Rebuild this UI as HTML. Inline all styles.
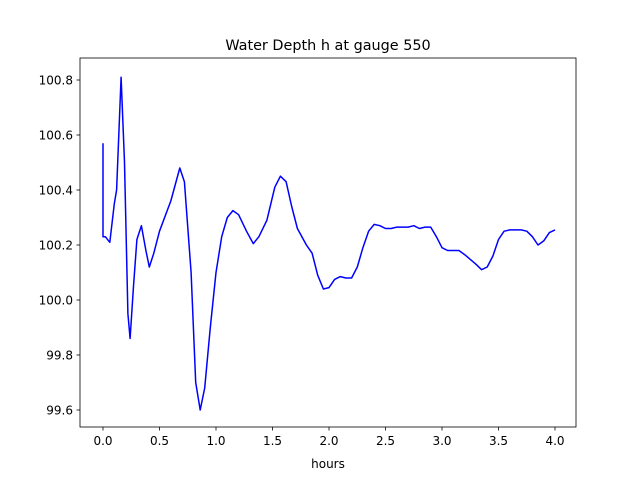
<!DOCTYPE html>
<html><head><meta charset="utf-8"><style>
body{margin:0;background:#fff}
svg text{font-family:"DejaVu Sans","Liberation Sans",sans-serif;fill:#000}
</style></head><body>
<svg id="chart" width="640" height="480" xmlns="http://www.w3.org/2000/svg">
<rect width="640" height="480" fill="#fff"/>
<text x="328" y="50" font-size="14.4" text-anchor="middle">Water Depth h at gauge 550</text>
<g id="ticks"></g>
<path id="series" fill="none" stroke="#0000ff" stroke-width="1.5" stroke-linejoin="round"/>
<rect x="80" y="58" width="496" height="369" fill="none" stroke="#000" stroke-width="0.8"/>
<text x="328" y="468" font-size="12" text-anchor="middle">hours</text>
</svg>
<script>
const times=[0,0,0.02,0.06,0.1,0.12,0.16,0.19,0.22,0.24,0.27,0.3,0.34,0.38,0.41,0.45,0.5,0.6,0.68,0.72,0.78,0.82,0.86,0.9,0.95,1.0,1.05,1.1,1.15,1.2,1.27,1.33,1.38,1.45,1.52,1.57,1.62,1.67,1.72,1.8,1.85,1.9,1.95,2.0,2.05,2.1,2.15,2.2,2.25,2.3,2.35,2.4,2.45,2.5,2.55,2.6,2.7,2.75,2.8,2.85,2.9,2.95,3.0,3.05,3.15,3.2,3.3,3.35,3.4,3.45,3.5,3.55,3.6,3.7,3.75,3.8,3.85,3.9,3.95,4.0];
const depths=[100.57,100.23,100.23,100.21,100.35,100.40,100.81,100.5,99.95,99.86,100.05,100.22,100.27,100.18,100.12,100.17,100.25,100.36,100.48,100.43,100.1,99.7,99.60,99.68,99.9,100.1,100.23,100.30,100.325,100.31,100.25,100.205,100.23,100.29,100.41,100.45,100.43,100.34,100.26,100.2,100.17,100.09,100.04,100.045,100.075,100.085,100.08,100.08,100.12,100.19,100.25,100.275,100.27,100.26,100.26,100.265,100.265,100.27,100.26,100.265,100.265,100.23,100.19,100.18,100.18,100.165,100.13,100.11,100.12,100.16,100.22,100.25,100.255,100.255,100.25,100.23,100.20,100.215,100.245,100.255];
const xTicks=["0.0","0.5","1.0","1.5","2.0","2.5","3.0","3.5","4.0"];
const yTicks=["99.6","99.8","100.0","100.2","100.4","100.6","100.8"];
const xs=t=>103+t*113, ys=v=>410-(v-99.6)*275;
const NS="http://www.w3.org/2000/svg";
const g=document.getElementById('ticks');
function mk(tag,attrs,txt){const e=document.createElementNS(NS,tag);for(const k in attrs)e.setAttribute(k,attrs[k]);if(txt)e.textContent=txt;g.appendChild(e);return e;}
xTicks.forEach(l=>{const x=xs(parseFloat(l));
const t=mk('line',{x1:x,x2:x,y1:427,y2:430.5,stroke:'#000','stroke-width':0.8});


const s=mk('text',{x:x,y:445,'font-size':12,'text-anchor':'middle'},l);

});
yTicks.forEach(l=>{const y=ys(parseFloat(l));
const t=mk('line',{x1:76.5,x2:80,y1:y,y2:y,stroke:'#000','stroke-width':0.8});


const s=mk('text',{x:73,y:y+4.5,'font-size':12,'text-anchor':'end'},l);

});
document.getElementById('series').setAttribute('d',times.map((t,i)=>(i?'L':'M')+xs(t).toFixed(1)+','+ys(depths[i]).toFixed(1)).join(''));
</script>
</body></html>
